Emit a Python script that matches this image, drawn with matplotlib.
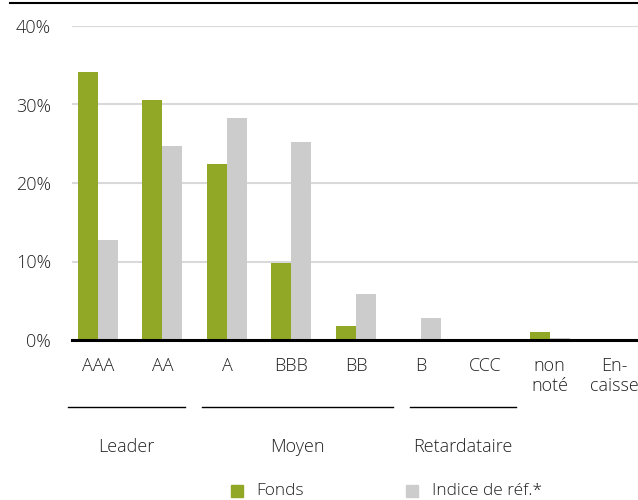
import numpy as np
import matplotlib.pyplot as plt
from matplotlib.lines import Line2D
from matplotlib.patches import Rectangle

plt.rcParams['font.family'] = ['Open Sans', 'DejaVu Sans']
plt.rcParams['font.weight'] = 'light'

# Data
categories = ["AAA", "AA", "A", "BBB", "BB", "B", "CCC", "non\nnoté", "En-\ncaisse"]
fonds = [34.2, 30.6, 22.4, 9.8, 1.8, 0.0, 0.0, 1.0, 0.0]
indice = [12.7, 24.7, 28.3, 25.2, 5.9, 2.8, 0.0, 0.25, 0.0]
groups = ["Leader", "Moyen", "Retardataire"]
series_names = ["Fonds", "Indice de réf.*"]

green = "#91a826"
grey = "#cccccc"
text_col = "#222222"

fig = plt.figure(figsize=(6.38, 5.0), dpi=100)
ax = fig.add_axes([72/638, 160/500, 566/638, 314/500])

x = np.arange(len(categories))
w = 0.31
ax.bar(x - w/2, fonds, width=w, color=green, zorder=3)
ax.bar(x + w/2, indice, width=w, color=grey, zorder=3)

ax.set_xlim(-0.4, 8.37)
ax.set_ylim(0, 40)
ax.set_yticks([0, 10, 20, 30, 40])
ax.set_yticklabels(["0%", "10%", "20%", "30%", "40%"], fontsize=13, color=text_col)
ax.yaxis.grid(True, color="#d9d9d9", linewidth=1.5, zorder=0)
ax.tick_params(axis="y", length=0, pad=15)
ax.set_xticks(x)
ax.set_xticklabels(categories, fontsize=13, color=text_col, linespacing=1.15)
ax.tick_params(axis="x", length=0, pad=12)
for s in ["top", "right", "left"]:
    ax.spines[s].set_visible(False)
ax.spines["bottom"].set_linewidth(2.2)
ax.spines["bottom"].set_color("black")
ax.spines["bottom"].set_zorder(4)

# top rule
fig.add_artist(Line2D([10/638, 1.0], [1 - 3/500, 1 - 3/500], color="black", linewidth=1.5))

# group brackets
spans = [(68, 185), (202, 393), (410, 516)]
for (x0, x1), g in zip(spans, groups):
    fig.add_artist(Line2D([x0/638, x1/638], [1 - 407/500, 1 - 407/500], color="black", linewidth=1.0))
    fig.text((x0 + x1)/2/638, 1 - 447/500, g, ha="center", va="center", fontsize=13, color=text_col)

# legend
for (sx, tx), name, c in zip([(231, 256), (406, 432)], series_names, [green, grey]):
    fig.add_artist(Rectangle((sx/638, 1 - 497/500), 12/638, 12/500, color=c, transform=fig.transFigure))
    fig.text(tx/638, 1 - 491/500, name, ha="left", va="center", fontsize=12.5, color=text_col)

fig.savefig("out.png", dpi=100)
